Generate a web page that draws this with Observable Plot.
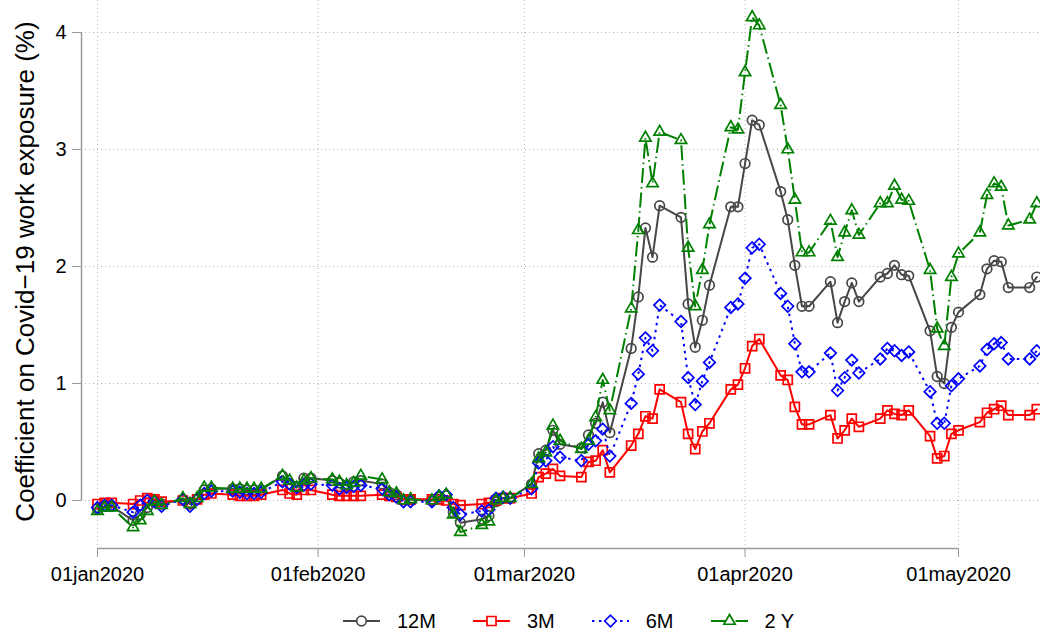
<!DOCTYPE html>
<html>
<head>
<meta charset="utf-8">
<script src="https://cdn.jsdelivr.net/npm/d3@7"></script>
<script src="https://cdn.jsdelivr.net/npm/@observablehq/plot@0.6"></script>
<style>
  body { margin: 0; background: #fff; font-family: "Liberation Sans", Arial, Helvetica, sans-serif; }
  #wrap { position: relative; width: 1040px; height: 637px; overflow: hidden; }
  #legend { position: absolute; left: 343px; top: 609px; height: 24px; display: flex; align-items: center; gap: 37px; font-size: 20px; color: #000; }
  .item { display: flex; align-items: center; }
  .item svg { margin-right: 17px; display: block; }
</style>
</head>
<body>
<div id="wrap"><div id="chart"></div><div id="legend"></div></div>
<script>
// ---- data (weekdays, 2020) ----
const dates = [
  "2020-01-01","2020-01-02","2020-01-03","2020-01-06","2020-01-07","2020-01-08","2020-01-09","2020-01-10",
  "2020-01-13","2020-01-14","2020-01-15","2020-01-16","2020-01-17","2020-01-20","2020-01-21","2020-01-22",
  "2020-01-23","2020-01-24","2020-01-27","2020-01-28","2020-01-29","2020-01-30","2020-01-31",
  "2020-02-03","2020-02-04","2020-02-05","2020-02-06","2020-02-07","2020-02-10","2020-02-11","2020-02-12",
  "2020-02-13","2020-02-14","2020-02-17","2020-02-18","2020-02-19","2020-02-20","2020-02-21","2020-02-24",
  "2020-02-25","2020-02-26","2020-02-27","2020-02-28",
  "2020-03-02","2020-03-03","2020-03-04","2020-03-05","2020-03-06","2020-03-09","2020-03-10","2020-03-11",
  "2020-03-12","2020-03-13","2020-03-16","2020-03-17","2020-03-18","2020-03-19","2020-03-20","2020-03-23",
  "2020-03-24","2020-03-25","2020-03-26","2020-03-27","2020-03-30","2020-03-31",
  "2020-04-01","2020-04-02","2020-04-03","2020-04-06","2020-04-07","2020-04-08","2020-04-09","2020-04-10",
  "2020-04-13","2020-04-14","2020-04-15","2020-04-16","2020-04-17","2020-04-20","2020-04-21","2020-04-22",
  "2020-04-23","2020-04-24","2020-04-27","2020-04-28","2020-04-29","2020-04-30",
  "2020-05-01","2020-05-04","2020-05-05","2020-05-06","2020-05-07","2020-05-08","2020-05-11","2020-05-12"
];

const s12M = [
  -0.07,-0.05,-0.05,-0.17,-0.12,-0.06,0.00,-0.03,0.01,-0.03,0.01,0.09,0.10,0.10,0.10,0.09,0.09,0.09,0.21,0.14,0.12,0.19,0.19,
  0.17,0.15,0.13,0.16,0.17,0.14,0.07,0.05,0.01,0.01,0.00,0.03,0.04,-0.10,-0.19,-0.16,-0.13,-0.01,0.02,0.02,
  0.14,0.40,0.43,0.60,0.48,0.45,0.56,0.66,0.84,0.58,1.30,1.74,2.33,2.08,2.52,2.42,1.68,1.31,1.54,1.84,2.51,2.51,
  2.88,3.25,3.21,2.64,2.40,2.01,1.66,1.66,1.87,1.52,1.70,1.86,1.70,1.91,1.94,2.01,1.93,1.92,1.45,1.06,1.00,1.48,
  1.61,1.76,1.98,2.05,2.04,1.82,1.82,1.91
];
const s3M = [
  -0.03,-0.02,-0.02,-0.03,0.00,0.02,0.01,-0.01,0.00,-0.02,0.01,0.05,0.06,0.05,0.04,0.04,0.04,0.05,0.09,0.06,0.05,0.09,0.09,
  0.05,0.04,0.04,0.04,0.04,0.05,0.04,0.03,0.01,0.01,0.01,0.01,0.00,-0.03,-0.04,-0.03,-0.02,0.00,0.02,0.02,
  0.06,0.20,0.23,0.27,0.21,0.20,0.33,0.34,0.43,0.24,0.47,0.57,0.72,0.70,0.95,0.84,0.57,0.44,0.59,0.66,0.95,0.99,
  1.13,1.32,1.38,1.07,1.03,0.80,0.65,0.65,0.73,0.53,0.60,0.70,0.63,0.70,0.77,0.74,0.73,0.77,0.55,0.36,0.38,0.57,
  0.60,0.67,0.75,0.78,0.81,0.73,0.73,0.78
];
const s6M = [
  -0.06,-0.04,-0.04,-0.10,-0.04,0.00,-0.01,-0.05,0.01,-0.05,0.01,0.06,0.08,0.08,0.07,0.06,0.06,0.07,0.16,0.14,0.11,0.13,0.14,
  0.13,0.10,0.11,0.12,0.13,0.10,0.05,0.03,-0.01,-0.01,-0.01,0.04,0.05,-0.06,-0.12,-0.09,-0.08,0.02,0.03,0.02,
  0.10,0.32,0.34,0.46,0.37,0.34,0.48,0.51,0.61,0.38,0.83,1.08,1.39,1.28,1.67,1.53,1.05,0.82,1.02,1.18,1.65,1.68,
  1.90,2.16,2.19,1.77,1.66,1.34,1.10,1.10,1.26,0.94,1.05,1.20,1.09,1.21,1.30,1.28,1.24,1.27,0.93,0.66,0.66,0.98,
  1.04,1.15,1.29,1.34,1.35,1.21,1.21,1.28
];
const s2Y = [
  -0.09,-0.06,-0.06,-0.23,-0.17,-0.09,-0.01,-0.04,0.02,-0.03,0.02,0.11,0.11,0.10,0.10,0.10,0.10,0.10,0.21,0.17,0.11,0.17,0.19,
  0.18,0.16,0.13,0.15,0.21,0.18,0.07,0.06,0.00,0.01,0.00,0.03,0.05,-0.12,-0.27,-0.21,-0.18,0.00,0.02,0.02,
  0.14,0.36,0.41,0.64,0.51,0.44,0.51,0.71,1.03,0.77,1.64,2.31,3.10,2.71,3.15,3.08,2.16,1.66,1.97,2.36,3.19,3.17,
  3.66,4.13,4.06,3.38,3.00,2.57,2.12,2.12,2.39,2.08,2.29,2.48,2.27,2.54,2.54,2.69,2.57,2.56,1.97,1.47,1.32,1.91,
  2.11,2.29,2.61,2.71,2.68,2.35,2.40,2.54
];

const seriesNames = ["12M", "3M", "6M", "2 Y"];
const xTickDates = ["2020-01-01", "2020-02-01", "2020-03-01", "2020-04-01", "2020-05-01"];
const xTickLabels = ["01jan2020", "01feb2020", "01mar2020", "01apr2020", "01may2020"];
const yTicks = [0, 1, 2, 3, 4];
const yTickLabels = ["0", "1", "2", "3", "4"];
const yTitle = "Coefficient on Covid\u221219 work exposure (%)";

// ---- styles ----
const styles = {
  "12M": {color: "#474747", symbol: "circle", r: 4.8, dash: null},
  "3M":  {color: "#ff0000", symbol: "square", r: 5.1, dash: null},
  "6M":  {color: "#0000ff", symbol: "diamond2", r: 5.2, dash: "2.5,4.5"},
  "2 Y": {color: "#008000", symbol: "triangle2", r: 5.4, dash: "15,4,1.5,4"}
};

const parsed = dates.map(s => new Date(s + "T00:00:00Z"));
const values = {"12M": s12M, "3M": s3M, "6M": s6M, "2 Y": s2Y};
const rows = name => parsed.map((d, i) => ({date: d, value: values[name][i], series: name}));
const xTicks = xTickDates.map(s => new Date(s + "T00:00:00Z"));

const xDomain = [new Date("2019-12-29T18:03:00Z"), new Date("2020-05-12T12:30:00Z")];
const yDomain = [-0.41026, 4.2735];
const gridColor = "#b4b4b4";
const axisColor = "#9a9a9a";

const seriesMarks = seriesNames.flatMap(name => {
  const st = styles[name];
  const data = rows(name);
  return [
    Plot.line(data, {x: "date", y: "value", stroke: st.color, strokeWidth: 2,
      strokeDasharray: st.dash || undefined, strokeLinecap: st.dash ? "butt" : "round"}),
    Plot.dot(data, {x: "date", y: "value", symbol: st.symbol, r: st.r, stroke: st.color,
      fill: "none", strokeWidth: 1.7})
  ];
});

const chart = Plot.plot({
  width: 1040, height: 590,
  marginLeft: 81, marginRight: 0, marginTop: 0, marginBottom: 42,
  style: {fontFamily: "'Liberation Sans', Arial, Helvetica, sans-serif", background: "white", color: "black", overflow: "visible"},
  x: {type: "utc", domain: xDomain},
  y: {domain: yDomain},
  marks: [
    Plot.gridY(yTicks, {stroke: gridColor, strokeOpacity: 1, strokeWidth: 1, strokeDasharray: "1,3"}),
    Plot.gridX(xTicks, {stroke: gridColor, strokeOpacity: 1, strokeWidth: 1, strokeDasharray: "1,3"}),
    Plot.ruleX([xDomain[0]], {y1: yTicks[0], y2: yTicks[yTicks.length - 1], stroke: axisColor, strokeWidth: 1.5}),
    Plot.ruleY([yDomain[0]], {x1: xTicks[0], x2: xTicks[xTicks.length - 1], stroke: axisColor, strokeWidth: 1.5}),
    Plot.axisY(yTicks, {tickSize: 9, tickPadding: 6, fontSize: 20, stroke: axisColor, fill: "black",
      tickFormat: d => yTickLabels[yTicks.indexOf(d)], label: null}),
    Plot.axisX(xTicks, {tickSize: 9, tickPadding: 9, fontSize: 20, stroke: axisColor, fill: "black",
      tickFormat: d => xTickLabels[xTicks.findIndex(t => +t === +d)], label: null}),
    Plot.text([yTitle], {frameAnchor: "left", textAnchor: "middle", rotate: -90, dx: -56, dy: -3, fontSize: 26, fill: "black"}),
    ...seriesMarks
  ]
});
document.getElementById("chart").appendChild(chart);

// ---- legend ----
const symbolMap = {circle: d3.symbolCircle, square: d3.symbolSquare, diamond2: d3.symbolDiamond2, triangle2: d3.symbolTriangle2};
const legend = document.getElementById("legend");
seriesNames.forEach(name => {
  const st = styles[name];
  const item = document.createElement("div");
  item.className = "item";
  const ns = "http://www.w3.org/2000/svg";
  const svg = document.createElementNS(ns, "svg");
  svg.setAttribute("width", 37); svg.setAttribute("height", 24);
  const line = document.createElementNS(ns, "line");
  line.setAttribute("x1", 0); line.setAttribute("x2", 37);
  line.setAttribute("y1", 12); line.setAttribute("y2", 12);
  line.setAttribute("stroke", st.color); line.setAttribute("stroke-width", 2);
  if (st.dash) line.setAttribute("stroke-dasharray", st.dash);
  svg.appendChild(line);
  const path = document.createElementNS(ns, "path");
  path.setAttribute("d", d3.symbol(symbolMap[st.symbol], Math.PI * st.r * st.r)());
  path.setAttribute("transform", "translate(18.5,12)");
  path.setAttribute("fill", "white"); path.setAttribute("stroke", st.color); path.setAttribute("stroke-width", 1.7);
  svg.appendChild(path);
  item.appendChild(svg);
  const label = document.createElement("span");
  label.textContent = name;
  item.appendChild(label);
  legend.appendChild(item);
});
</script>
</body>
</html>
